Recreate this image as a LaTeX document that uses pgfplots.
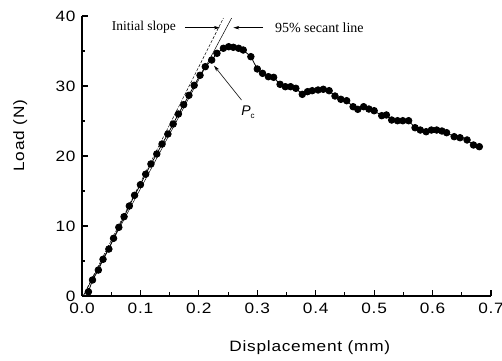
\documentclass[border=0pt]{standalone}
\usepackage{fontspec}
\setmainfont{Liberation Sans}
\newfontfamily\axfont[FakeStretch=1.15,LetterSpace=5]{Liberation Sans}
\newfontfamily\timesfont{Liberation Serif}
\usepackage{pgfplots}
\pgfplotsset{compat=1.18}
\usetikzlibrary{arrows.meta}
\pgfplotstableread{
x y
0.011 0.6
0.018 2.29
0.028 3.71
0.036 5.24
0.046 6.71
0.054 8.24
0.063 9.81
0.072 11.33
0.081 12.86
0.090 14.39
0.100 15.9
0.109 17.4
0.118 18.86
0.128 20.29
0.137 21.71
0.147 23.14
0.156 24.57
0.165 26.0
0.174 27.33
0.183 28.67
0.192 30.1
0.202 31.53
0.211 32.76
0.222 33.71
0.231 34.67
0.242 35.39
0.251 35.61
0.259 35.53
0.268 35.39
0.276 35.14
0.289 34.19
0.300 32.43
0.309 31.81
0.319 31.33
0.328 31.24
0.339 30.24
0.348 29.9
0.357 29.9
0.366 29.67
0.377 28.81
0.386 29.19
0.394 29.33
0.404 29.43
0.413 29.53
0.423 29.33
0.433 28.57
0.443 28.1
0.453 27.9
0.464 27.04
0.472 26.67
0.482 27.04
0.491 26.71
0.500 26.47
0.513 25.76
0.521 25.86
0.530 25.14
0.540 25.04
0.549 25.04
0.559 25.04
0.570 24.04
0.579 23.71
0.589 23.47
0.598 23.71
0.607 23.71
0.616 23.57
0.624 23.33
0.637 22.76
0.647 22.61
0.659 22.29
0.670 21.57
0.680 21.33
}\loaddata
\begin{document}
\begin{tikzpicture}
\begin{axis}[
  scale only axis, width=409bp, height=280bp,
  xmin=0, xmax=0.7, ymin=0, ymax=40,
  axis lines=left, axis line style={-, line width=1.3pt},
  xtick={0,0.1,0.2,0.3,0.4,0.5,0.6,0.7},
  ytick={0,10,20,30,40},
  minor x tick num=1, minor y tick num=1,
  tick align=inside, major tick length=6bp, minor tick length=3.5bp,
  tick style={line width=1.1pt, black},
  xticklabel style={/pgf/number format/fixed, /pgf/number format/fixed zerofill, /pgf/number format/precision=1, yshift=-4bp},
  yticklabel style={xshift=-3bp},
  /pgf/number format/assume math mode=true,
  ticklabel style={font=\axfont\fontsize{15bp}{17bp}\selectfont},
  xlabel={Displacement (mm)}, ylabel={Load (N)},
  xlabel style={font=\axfont\fontsize{15bp}{17bp}\selectfont, at={(axis description cs:0.557,-0.185)}, anchor=center},
  ylabel style={font=\axfont\fontsize{15bp}{17bp}\selectfont, at={(axis description cs:-0.151,0.573)}, anchor=center, rotate=0},
  clip=false,
]
\coordinate (O) at (rel axis cs:0,0);
\addplot[black, dash pattern=on 3bp off 1.5bp, line width=0.5pt] coordinates {(0.002,0) (0.242,39.7)};
\addplot[black, line width=0.5pt] coordinates {(0.002,0) (0.256,39.7)};
\addplot[black, line width=0.8pt, mark=*, mark size=3.3bp] table[x=x,y=y] {\loaddata};
\draw[-{Stealth[length=6bp,width=3.5bp]}, line width=0.6pt] (axis cs:0.176,38.33) -- (axis cs:0.236,38.33);
\draw[-{Stealth[length=6bp,width=3.5bp]}, line width=0.6pt] (axis cs:0.310,38.33) -- (axis cs:0.259,38.33);
\node[anchor=east, inner sep=0pt, font=\timesfont\fontsize{13.5bp}{15bp}\selectfont] at (axis cs:0.161,38.33) {Initial slope};
\node[anchor=west, inner sep=0pt, font=\timesfont\fontsize{14bp}{15bp}\selectfont] at (axis cs:0.330,38.33) {95\% secant line};
\draw[-{Stealth[length=6bp,width=3.5bp]}, line width=0.6pt] (axis cs:0.273,28.0) -- (axis cs:0.226,32.9);
\node[inner sep=0pt, font=\fontsize{14bp}{15bp}\selectfont] at (axis cs:0.284,26.2) {\itshape P\raisebox{-3bp}{\upshape\fontsize{8bp}{9bp}\selectfont c}};
\end{axis}
\pgfresetboundingbox
\path[use as bounding box] (O) ++(-82bp,-65bp) rectangle ++(502bp,361bp);
\end{tikzpicture}
\end{document}
